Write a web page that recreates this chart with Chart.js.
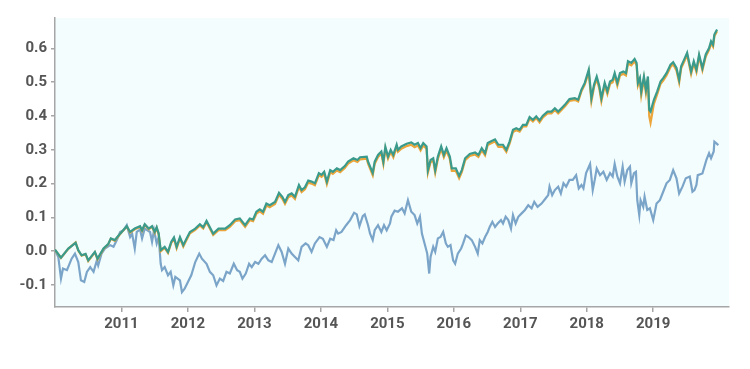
<!DOCTYPE html>
<html>
<head>
<meta charset="utf-8">
<script src="https://cdn.jsdelivr.net/npm/chart.js@4"></script>
<style>
  html, body { margin: 0; padding: 0; background: #fff; }
  #wrap { width: 750px; height: 369px; }
</style>
</head>
<body>
<div id="wrap"><canvas id="chart" width="750" height="369"></canvas></div>
<script>
// x values are decimal years
const yearTicks = [2011, 2012, 2013, 2014, 2015, 2016, 2017, 2018, 2019]
const valueTicks = [-0.1, 0.0, 0.1, 0.2, 0.3, 0.4, 0.5, 0.6]

const lineDates = [
  2010.00, 2010.09, 2010.20, 2010.31, 2010.35, 2010.40, 2010.46, 2010.50, 2010.60, 2010.64,
  2010.73, 2010.80, 2010.84, 2010.90, 2010.98, 2011.08, 2011.13, 2011.20, 2011.28, 2011.31,
  2011.35, 2011.41, 2011.46, 2011.50, 2011.53, 2011.56, 2011.59, 2011.65, 2011.70, 2011.75,
  2011.79, 2011.83, 2011.88, 2011.93, 2011.98, 2012.03, 2012.11, 2012.18, 2012.23, 2012.28,
  2012.33, 2012.38, 2012.46, 2012.56, 2012.63, 2012.71, 2012.78, 2012.86, 2012.93, 2012.98,
  2013.03, 2013.08, 2013.13, 2013.18, 2013.23, 2013.31, 2013.37, 2013.42, 2013.46, 2013.51,
  2013.56, 2013.61, 2013.67, 2013.71, 2013.76, 2013.81, 2013.86, 2013.91, 2013.97, 2014.01,
  2014.05, 2014.09, 2014.14, 2014.18, 2014.24, 2014.29, 2014.36, 2014.41, 2014.49, 2014.55,
  2014.59, 2014.69, 2014.71, 2014.78, 2014.81, 2014.86, 2014.91, 2014.94, 2014.97, 2015.01,
  2015.05, 2015.09, 2015.14, 2015.16, 2015.21, 2015.29, 2015.36, 2015.41, 2015.46, 2015.50,
  2015.54, 2015.59, 2015.61, 2015.65, 2015.69, 2015.72, 2015.76, 2015.81, 2015.85, 2015.89,
  2015.94, 2015.97, 2016.03, 2016.08, 2016.12, 2016.17, 2016.24, 2016.32, 2016.37, 2016.42,
  2016.47, 2016.51, 2016.57, 2016.62, 2016.67, 2016.74, 2016.79, 2016.84, 2016.89, 2016.94,
  2016.99, 2017.04, 2017.09, 2017.14, 2017.19, 2017.24, 2017.29, 2017.34, 2017.41, 2017.47,
  2017.52, 2017.57, 2017.62, 2017.67, 2017.74, 2017.82, 2017.87, 2017.92, 2017.97, 2018.03,
  2018.07, 2018.11, 2018.15, 2018.19, 2018.22, 2018.27, 2018.31, 2018.35, 2018.39, 2018.42,
  2018.46, 2018.50, 2018.55, 2018.59, 2018.62, 2018.67, 2018.72, 2018.75, 2018.77, 2018.80,
  2018.82, 2018.86, 2018.89, 2018.92, 2018.94, 2018.96, 2019.01, 2019.06, 2019.11, 2019.15,
  2019.20, 2019.26, 2019.30, 2019.35, 2019.39, 2019.42, 2019.47, 2019.51, 2019.57, 2019.61,
  2019.65, 2019.69, 2019.74, 2019.79, 2019.84, 2019.87, 2019.90, 2019.92, 2019.96
]

const greenValues = [
  0.005, -0.019, 0.008, 0.025, 0.003, -0.012, -0.008, -0.027, -0.002, -0.022,
  0.008, 0.021, 0.038, 0.033, 0.052, 0.074, 0.057, 0.067, 0.074, 0.062,
  0.080, 0.067, 0.074, 0.057, 0.071, 0.052, 0.003, 0.013, -0.002, 0.028,
  0.041, 0.013, 0.042, 0.018, 0.038, 0.057, 0.067, 0.080, 0.071, 0.090,
  0.071, 0.052, 0.067, 0.067, 0.077, 0.094, 0.097, 0.077, 0.097, 0.094,
  0.117, 0.124, 0.117, 0.141, 0.136, 0.146, 0.173, 0.161, 0.146, 0.166,
  0.171, 0.161, 0.196, 0.181, 0.189, 0.209, 0.206, 0.201, 0.231, 0.226,
  0.235, 0.206, 0.240, 0.235, 0.245, 0.240, 0.252, 0.265, 0.275, 0.270,
  0.278, 0.280, 0.265, 0.232, 0.265, 0.285, 0.295, 0.265, 0.309, 0.280,
  0.300, 0.285, 0.315, 0.300, 0.310, 0.318, 0.322, 0.315, 0.320, 0.305,
  0.320, 0.310, 0.240, 0.270, 0.275, 0.240, 0.280, 0.310, 0.285, 0.305,
  0.280, 0.245, 0.245, 0.223, 0.240, 0.275, 0.288, 0.292, 0.285, 0.305,
  0.290, 0.320, 0.326, 0.331, 0.315, 0.315, 0.300, 0.325, 0.359, 0.364,
  0.359, 0.374, 0.374, 0.397, 0.389, 0.399, 0.387, 0.401, 0.413, 0.413,
  0.423, 0.413, 0.423, 0.433, 0.450, 0.453, 0.448, 0.478, 0.498, 0.537,
  0.453, 0.493, 0.517, 0.488, 0.453, 0.498, 0.473, 0.502, 0.507, 0.527,
  0.498, 0.527, 0.532, 0.527, 0.562, 0.557, 0.569, 0.557, 0.498, 0.513,
  0.473, 0.517, 0.478, 0.517, 0.418, 0.413, 0.448, 0.473, 0.502, 0.512,
  0.527, 0.552, 0.559, 0.542, 0.507, 0.547, 0.569, 0.587, 0.532, 0.562,
  0.537, 0.582, 0.542, 0.582, 0.601, 0.621, 0.611, 0.641, 0.656
]

const orangeValues = [
  0.004, -0.020, 0.007, 0.026, 0.002, -0.013, -0.009, -0.029, -0.003, -0.024,
  0.007, 0.020, 0.037, 0.031, 0.051, 0.073, 0.055, 0.065, 0.072, 0.060,
  0.078, 0.065, 0.072, 0.054, 0.069, 0.049, 0.000, 0.010, -0.005, 0.025,
  0.037, 0.009, 0.038, 0.014, 0.034, 0.053, 0.063, 0.076, 0.067, 0.086,
  0.067, 0.048, 0.062, 0.062, 0.072, 0.089, 0.092, 0.072, 0.092, 0.089,
  0.111, 0.118, 0.111, 0.135, 0.130, 0.140, 0.167, 0.155, 0.140, 0.160,
  0.165, 0.155, 0.190, 0.175, 0.183, 0.203, 0.200, 0.195, 0.225, 0.220,
  0.229, 0.199, 0.234, 0.229, 0.239, 0.234, 0.246, 0.259, 0.269, 0.264,
  0.272, 0.274, 0.259, 0.225, 0.259, 0.279, 0.289, 0.258, 0.303, 0.274,
  0.294, 0.278, 0.308, 0.294, 0.303, 0.311, 0.315, 0.308, 0.313, 0.298,
  0.313, 0.303, 0.232, 0.263, 0.268, 0.232, 0.273, 0.303, 0.278, 0.298,
  0.273, 0.238, 0.238, 0.216, 0.234, 0.269, 0.282, 0.286, 0.279, 0.299,
  0.284, 0.314, 0.320, 0.325, 0.309, 0.309, 0.294, 0.319, 0.353, 0.358,
  0.354, 0.369, 0.369, 0.392, 0.384, 0.394, 0.381, 0.396, 0.408, 0.408,
  0.418, 0.408, 0.418, 0.428, 0.445, 0.448, 0.443, 0.473, 0.493, 0.530,
  0.444, 0.486, 0.510, 0.480, 0.444, 0.491, 0.465, 0.495, 0.500, 0.520,
  0.490, 0.520, 0.525, 0.520, 0.555, 0.550, 0.562, 0.550, 0.490, 0.506,
  0.462, 0.510, 0.468, 0.510, 0.400, 0.380, 0.436, 0.465, 0.495, 0.505,
  0.520, 0.545, 0.553, 0.535, 0.499, 0.541, 0.563, 0.581, 0.524, 0.556,
  0.530, 0.576, 0.535, 0.576, 0.596, 0.615, 0.605, 0.636, 0.651
]

const blueDates = [
  2010.00, 2010.05, 2010.09, 2010.12, 2010.18, 2010.25, 2010.30, 2010.35, 2010.39, 2010.44,
  2010.48, 2010.53, 2010.58, 2010.63, 2010.65, 2010.70, 2010.75, 2010.83, 2010.88, 2010.93,
  2010.98, 2011.03, 2011.08, 2011.13, 2011.16, 2011.20, 2011.23, 2011.28, 2011.31, 2011.35,
  2011.43, 2011.46, 2011.49, 2011.53, 2011.56, 2011.59, 2011.61, 2011.65, 2011.70, 2011.74,
  2011.78, 2011.81, 2011.88, 2011.91, 2011.95, 2012.00, 2012.05, 2012.11, 2012.17, 2012.21,
  2012.28, 2012.33, 2012.38, 2012.43, 2012.48, 2012.53, 2012.58, 2012.63, 2012.69, 2012.74,
  2012.78, 2012.82, 2012.87, 2012.92, 2012.96, 2013.01, 2013.06, 2013.11, 2013.16, 2013.21,
  2013.26, 2013.31, 2013.36, 2013.41, 2013.46, 2013.51, 2013.56, 2013.61, 2013.66, 2013.71,
  2013.77, 2013.81, 2013.86, 2013.91, 2013.98, 2014.03, 2014.09, 2014.14, 2014.19, 2014.23,
  2014.26, 2014.31, 2014.38, 2014.44, 2014.50, 2014.54, 2014.58, 2014.63, 2014.66, 2014.71,
  2014.74, 2014.78, 2014.81, 2014.86, 2014.91, 2014.95, 2014.99, 2015.04, 2015.06, 2015.11,
  2015.16, 2015.22, 2015.26, 2015.31, 2015.36, 2015.41, 2015.45, 2015.49, 2015.52, 2015.56,
  2015.60, 2015.63, 2015.65, 2015.69, 2015.72, 2015.76, 2015.80, 2015.84, 2015.88, 2015.91,
  2015.95, 2015.99, 2016.02, 2016.06, 2016.11, 2016.14, 2016.18, 2016.22, 2016.27, 2016.32,
  2016.36, 2016.39, 2016.43, 2016.47, 2016.51, 2016.54, 2016.58, 2016.62, 2016.66, 2016.71,
  2016.74, 2016.78, 2016.82, 2016.86, 2016.89, 2016.93, 2016.97, 2017.02, 2017.07, 2017.12,
  2017.17, 2017.21, 2017.26, 2017.32, 2017.38, 2017.42, 2017.44, 2017.48, 2017.52, 2017.57,
  2017.61, 2017.65, 2017.69, 2017.74, 2017.79, 2017.84, 2017.88, 2017.92, 2017.95, 2017.99,
  2018.05, 2018.09, 2018.12, 2018.15, 2018.20, 2018.25, 2018.30, 2018.35, 2018.39, 2018.42,
  2018.46, 2018.50, 2018.54, 2018.57, 2018.61, 2018.65, 2018.67, 2018.71, 2018.74, 2018.76,
  2018.79, 2018.81, 2018.85, 2018.87, 2018.91, 2018.95, 2019.00, 2019.05, 2019.10, 2019.15,
  2019.20, 2019.25, 2019.30, 2019.35, 2019.39, 2019.44, 2019.49, 2019.55, 2019.59, 2019.62,
  2019.65, 2019.67, 2019.74, 2019.80, 2019.84, 2019.87, 2019.91, 2019.92, 2019.95, 2019.98
]

const blueValues = [
  0.003, -0.017, -0.081, -0.051, -0.056, -0.022, -0.007, -0.032, -0.086, -0.091,
  -0.061, -0.047, -0.061, -0.027, -0.042, -0.007, 0.008, 0.018, 0.013, 0.033,
  0.057, 0.062, 0.077, 0.042, 0.052, 0.008, 0.057, 0.064, 0.038, 0.067,
  0.057, 0.028, 0.062, 0.023, 0.042, -0.037, -0.056, -0.047, -0.071, -0.061,
  -0.101, -0.076, -0.086, -0.121, -0.111, -0.091, -0.071, -0.032, -0.007, -0.022,
  -0.037, -0.061, -0.071, -0.101, -0.081, -0.088, -0.061, -0.066, -0.037, -0.056,
  -0.061, -0.081, -0.066, -0.037, -0.047, -0.032, -0.037, -0.022, -0.012, -0.027,
  -0.032, -0.007, 0.018, -0.002, -0.037, 0.008, -0.007, -0.017, -0.027, 0.013,
  0.023, 0.018, -0.002, 0.023, 0.042, 0.037, 0.013, 0.037, 0.033, 0.062,
  0.052, 0.057, 0.077, 0.092, 0.114, 0.109, 0.074, 0.104, 0.109, 0.077,
  0.052, 0.033, 0.062, 0.077, 0.057, 0.077, 0.062, 0.082, 0.102, 0.120,
  0.117, 0.127, 0.112, 0.151, 0.117, 0.107, 0.082, 0.102, 0.052, 0.023,
  -0.007, -0.066, -0.017, 0.013, -0.002, 0.038, 0.042, 0.057, 0.023, 0.013,
  0.018, -0.027, -0.037, -0.007, 0.008, 0.023, 0.047, 0.042, 0.033, 0.013,
  -0.007, 0.033, 0.023, 0.042, 0.057, 0.072, 0.087, 0.072, 0.082, 0.092,
  0.082, 0.102, 0.092, 0.067, 0.107, 0.082, 0.102, 0.112, 0.122, 0.136,
  0.127, 0.146, 0.131, 0.141, 0.156, 0.166, 0.191, 0.166, 0.181, 0.191,
  0.171, 0.201, 0.191, 0.211, 0.211, 0.225, 0.186, 0.196, 0.186, 0.231,
  0.258, 0.181, 0.211, 0.245, 0.225, 0.235, 0.211, 0.231, 0.221, 0.258,
  0.221, 0.201, 0.250, 0.206, 0.240, 0.250, 0.201, 0.231, 0.235, 0.151,
  0.107, 0.151, 0.131, 0.161, 0.122, 0.127, 0.092, 0.141, 0.151, 0.176,
  0.201, 0.211, 0.240, 0.216, 0.171, 0.191, 0.216, 0.221, 0.176, 0.181,
  0.196, 0.225, 0.230, 0.270, 0.290, 0.275, 0.295, 0.324, 0.319, 0.314
]

const toPoints = (xs, ys) => xs.map((x, i) => ({ x: x, y: ys[i] }))

// Light cyan fill behind the plot area
const plotBackground = {
  id: 'plotBackground',
  beforeDraw(chart) {
    const { ctx, chartArea } = chart
    ctx.save()
    ctx.fillStyle = '#f3fdfd'
    ctx.fillRect(chartArea.left, chartArea.top, chartArea.right - chartArea.left, chartArea.bottom - chartArea.top)
    ctx.restore()
  }
}

const tickFont = { family: 'Roboto', size: 15, weight: 'bold' }
const axisGray = '#a6a6a6'

// Chart.js paints dataset 0 last, so the green line goes first to sit on top
new Chart(document.getElementById('chart').getContext('2d'), {
  type: 'line',
  data: {
    datasets: [
      {
        label: 'Portfolio A',
        data: toPoints(lineDates, greenValues),
        borderColor: '#3a9a8c',
        borderWidth: 2.2,
        pointRadius: 0,
        tension: 0,
        fill: false
      },
      {
        label: 'Portfolio B',
        data: toPoints(lineDates, orangeValues),
        borderColor: '#eba53a',
        borderWidth: 2.2,
        pointRadius: 0,
        tension: 0,
        fill: false
      },
      {
        label: 'Benchmark',
        data: toPoints(blueDates, blueValues),
        borderColor: '#7ba4c9',
        borderWidth: 2.2,
        pointRadius: 0,
        tension: 0,
        fill: false
      }
    ]
  },
  options: {
    responsive: false,
    animation: false,
    layout: { padding: { top: 18, right: 21, left: 0, bottom: 0 } },
    scales: {
      x: {
        type: 'linear',
        min: 2010.0,
        max: 2020.14,
        afterFit: (scale) => { scale.height = 62 },
        afterBuildTicks: (scale) => { scale.ticks = yearTicks.map((v) => ({ value: v })) },
        ticks: {
          color: '#555555',
          font: tickFont,
          padding: 3,
          maxRotation: 0,
          callback: (v) => String(v)
        },
        grid: { drawOnChartArea: false, drawTicks: true, tickLength: 5, color: axisGray, lineWidth: 1.5 },
        border: { color: axisGray, width: 1.5 }
      },
      y: {
        min: -0.165,
        max: 0.69,
        afterFit: (scale) => { scale.width = 55 },
        afterBuildTicks: (scale) => { scale.ticks = valueTicks.map((v) => ({ value: v })) },
        ticks: {
          color: '#555555',
          font: tickFont,
          padding: 4,
          callback: (v) => v.toFixed(1)
        },
        grid: { drawOnChartArea: false, drawTicks: true, tickLength: 4, color: axisGray, lineWidth: 1.5 },
        border: { color: axisGray, width: 1.5 }
      }
    },
    plugins: {
      legend: { display: false },
      tooltip: { enabled: false }
    }
  },
  plugins: [plotBackground]
})
</script>
</body>
</html>
